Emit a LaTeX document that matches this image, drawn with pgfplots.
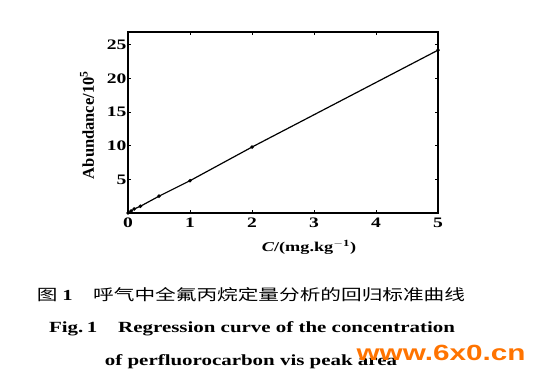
\documentclass[border=0pt]{standalone}
\usepackage{pgfplots}
\pgfplotsset{compat=1.18}
\usepackage{fontspec}
\setmainfont{Liberation Serif}
\newfontfamily\cjk{Noto Sans CJK SC}
\newfontfamily\wm{Liberation Sans}
\begin{document}
\begin{tikzpicture}[x=1pt,y=1pt]
\path[use as bounding box] (0pt,0pt) rectangle (534pt,374pt);
\begin{axis}[
  at={(128pt,161pt)}, anchor=south west,
  width=310pt, height=181pt, scale only axis,
  xmin=0, xmax=5, ymin=0, ymax=26.9,
  xtick={0,1,2,3,4,5}, ytick={5,10,15,20,25},
  tick align=inside, major tick length=3pt,
  axis line style={line width=1.4pt},
  tick style={line width=0.8pt, black},
  ticklabel style={font=\fontsize{14.5}{14.5}\selectfont\bfseries, xscale=1.35},
  yticklabel style={inner sep=1pt},
  xticklabel style={yshift=-1pt},
  /pgf/number format/assume math mode=true,
  xlabel={\fontsize{13.5}{13.5}\selectfont\bfseries\itshape C\upshape/(mg.kg$^{\mathbf{-1}}$)},
  ylabel={\fontsize{16.5}{16.5}\selectfont\bfseries Abundance/10$^{\mathbf{5}}$},
  xlabel style={at={(axis description cs:0.584,-0.188)}, anchor=center, xscale=1.35},
  ylabel style={at={(axis description cs:-0.132,0.486)}, anchor=center},
  clip=false,
]
\addplot[black, line width=1.2pt, mark=*, mark size=1.1pt] coordinates {
 (0,0) (0.05,0.3) (0.1,0.6) (0.2,1.0) (0.5,2.5) (1,4.8) (2,9.8) (5,24.2)
};
\end{axis}
\node[anchor=center, xscale=1.35] at (251pt,79pt) {\fontsize{15.3}{15.3}\selectfont\cjk 图 {\rmfamily\bfseries 1}\quad 呼气中全氟丙烷定量分析的回归标准曲线};
\node[anchor=center, xscale=1.35] at (252pt,45pt) {\fontsize{15.5}{15.5}\selectfont\bfseries Fig.\,1\quad Regression curve of the concentration};
\node[anchor=center, xscale=1.35] at (251pt,12pt) {\fontsize{15.5}{15.5}\selectfont\bfseries of perfluorocarbon vis peak area};
\node[anchor=center, xscale=1.35, text=orange!90!red] at (441pt,21pt) {\fontsize{22}{22}\selectfont\wm\bfseries www.6x0.cn};
\end{tikzpicture}
\end{document}
